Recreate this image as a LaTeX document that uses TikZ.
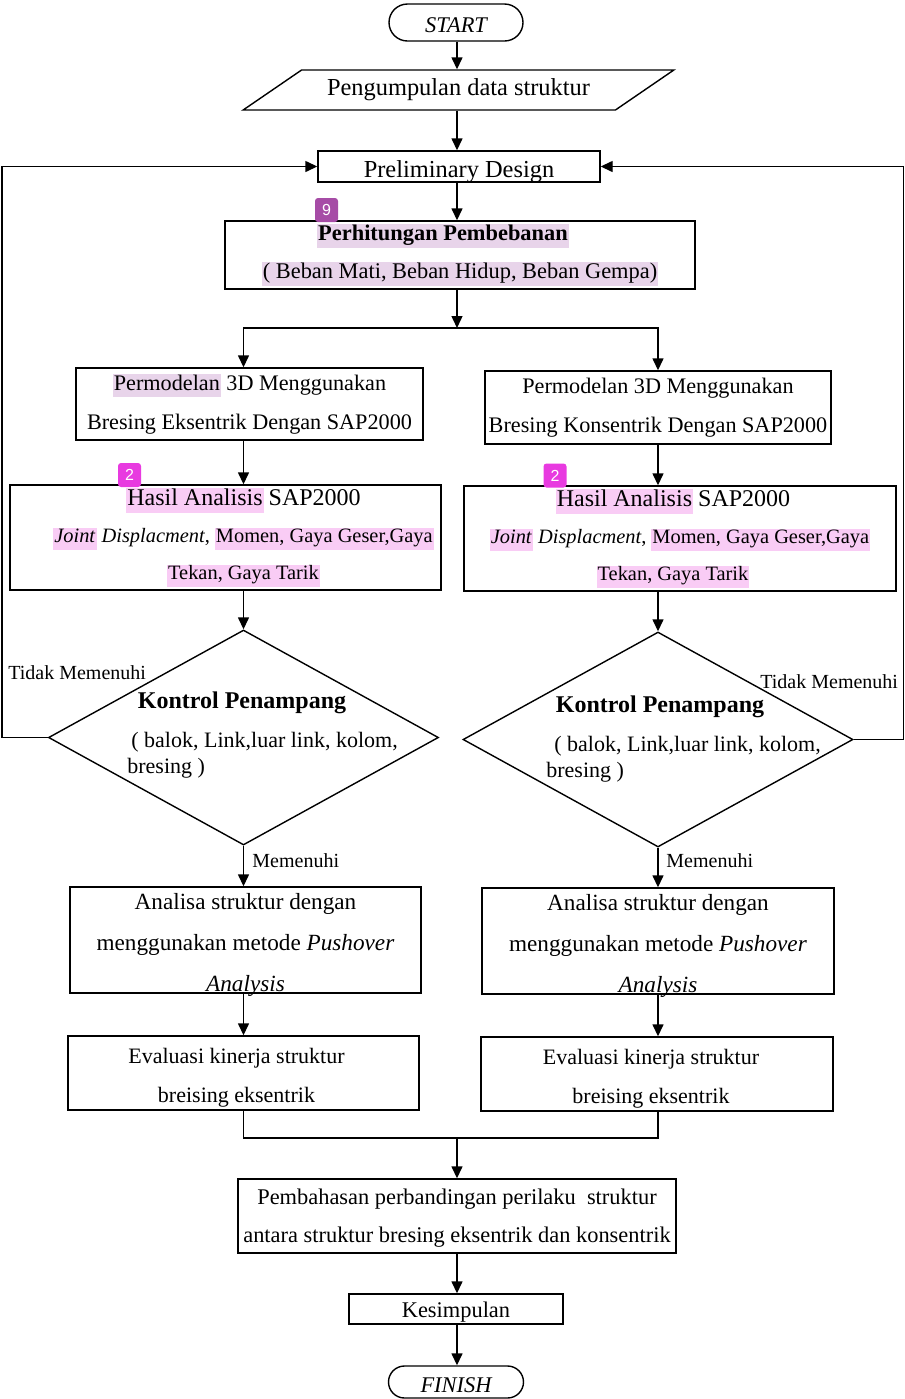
\documentclass[tikz,border=0pt]{standalone}
\usepackage{fontspec}
\setmainfont{Liberation Serif}
\setsansfont{Liberation Sans}
\usepackage{tikz}
\usetikzlibrary{shapes.geometric,shapes.misc,arrows.meta}

\definecolor{sorotungu}{RGB}{232,212,234}
\definecolor{sorotpink}{RGB}{249,204,245}
\definecolor{lencanaungu}{RGB}{166,76,166}
\definecolor{lencanapink}{RGB}{232,58,224}

\newcommand{\hlungu}[1]{{\setlength{\fboxsep}{0.5pt}\colorbox{sorotungu}{\rule[-3pt]{0pt}{10pt}#1}}}
\newcommand{\hlpink}[1]{{\setlength{\fboxsep}{0.5pt}\colorbox{sorotpink}{\rule[-3pt]{0pt}{10pt}#1}}}
\newcommand{\hurufbesar}{\fontsize{12}{18.5}\selectfont}

\tikzset{
	kotak/.style={draw, line width=0.7pt, rectangle, inner sep=0pt, align=center},
	terminal/.style={draw, line width=0.7pt, rounded rectangle, inner sep=0pt, text height=10pt, text depth=0pt, font=\fontsize{11.2}{13}\selectfont\itshape},
	masukan/.style={draw, line width=0.7pt, trapezium, trapezium left angle=24.4, trapezium right angle=155.6, trapezium stretches=true, inner sep=0pt},
	keputusan/.style={draw, line width=0.7pt, diamond, inner sep=0pt},
	panah/.style={-{Triangle[length=6pt,width=5.5pt]}, line width=0.7pt},
	garis/.style={line width=0.7pt},
	ket/.style={font=\fontsize{10}{12}\selectfont, inner sep=0pt},
	lencana/.style={rounded corners=1.5pt, text=white, font=\sffamily\fontsize{8}{8}\selectfont, minimum width=11.5pt, minimum height=12pt, inner sep=0pt}
}

\begin{document}
\begin{tikzpicture}[x=0.5pt, y=-0.5pt, font=\fontsize{11.2}{19}\selectfont]
	\useasboundingbox (0,0) rectangle (905,1399);
	
	% alur utama
	\node[terminal, minimum width=67pt, minimum height=18.5pt] (mulai) at (456, 22.5) {START};
	\node[masukan, minimum width=215.5pt, minimum height=20pt, font=\fontsize{12.2}{14}\selectfont] (data) at (458.5, 90) {Pengumpulan data struktur};
	\node[kotak, minimum width=141pt, minimum height=15.5pt, text height=10.5pt, text depth=0pt, font=\fontsize{12.2}{14}\selectfont] (prelim) at (459, 166.5) {Preliminary Design};
	\node[kotak, minimum width=235pt, minimum height=34pt] (hitung) at (460, 255) {\hlungu{\textbf{Perhitungan Pembebanan}}\hspace*{17pt}\\ \hlungu{( Beban Mati, Beban Hidup, Beban Gempa)}};
	\coordinate (cabang) at (457, 328);
	
	% kolom kiri dan kanan
	\node[kotak, minimum width=173.5pt, minimum height=36pt, font=\fontsize{11.1}{19.5}\selectfont] (modelL) at (249.5, 404) {\hlungu{Permodelan} 3D Menggunakan\\ Bresing Eksentrik Dengan SAP2000};
	\node[kotak, minimum width=173pt, minimum height=36.5pt, font=\fontsize{11.1}{19.5}\selectfont] (modelR) at (658, 407.5) {Permodelan 3D Menggunakan\\ Bresing Konsentrik Dengan SAP2000};
	
	\node[kotak, minimum width=215.5pt, minimum height=52.5pt, font=\fontsize{10.2}{18.5}\selectfont] (hasilL) at (225.5, 537.5) {\hspace*{18pt}\hlpink{\hurufbesar Hasil Analisis} {\hurufbesar SAP2000}\\ \hspace*{18pt}\hlpink{\textit{Joint}} \textit{Displacment}, \hlpink{Momen, Gaya Geser,Gaya}\\ \hspace*{18pt}\hlpink{Tekan, Gaya Tarik}};
	\node[kotak, minimum width=216pt, minimum height=52.5pt, font=\fontsize{10.2}{18.5}\selectfont] (hasilR) at (680, 538.5) {\hlpink{\hurufbesar Hasil Analisis} {\hurufbesar SAP2000}\hspace*{7pt}\\ \hlpink{\textit{Joint}} \textit{Displacment}, \hlpink{Momen, Gaya Geser,Gaya}\hspace*{7pt}\\ \hlpink{Tekan, Gaya Tarik}\hspace*{7pt}};
	
	\node[keputusan, minimum width=195pt, minimum height=107.5pt] (kontrolL) at (243.5, 737.5) {};
	\node[font=\fontsize{12}{14}\selectfont\bfseries, inner sep=0pt] (judulL) at (242, 703) {Kontrol Penampang};
	\node[anchor=west, align=left, font=\fontsize{11}{13}\selectfont, inner sep=0pt] (isiL) at (127, 755) {\hspace*{2pt}( balok, Link,luar link, kolom,\\bresing )};
	\node[keputusan, minimum width=195pt, minimum height=107.5pt] (kontrolR) at (658, 739.5) {};
	\node[font=\fontsize{12}{14}\selectfont\bfseries, inner sep=0pt] (judulR) at (660, 707) {Kontrol Penampang};
	\node[anchor=west, align=left, font=\fontsize{11}{13}\selectfont, inner sep=0pt] (isiR) at (546, 759) {\hspace*{4pt}( balok, Link,luar link, kolom,\\bresing )};
	
	\node[ket, anchor=west] (tidakL) at (8, 673) {Tidak Memenuhi};
	\node[ket, anchor=west] (tidakR) at (760, 682) {Tidak Memenuhi};
	\node[ket, anchor=west] (penuhL) at (252, 861) {Memenuhi};
	\node[ket, anchor=west] (penuhR) at (666, 861) {Memenuhi};
	
	\node[kotak, minimum width=175.5pt, minimum height=53pt, font=\fontsize{11.6}{20.5}\selectfont] (analisaL) at (245.5, 940) {\rule{0pt}{10pt}Analisa struktur dengan\\ menggunakan metode \textit{Pushover}\\ \smash{\textit{Analysis}}};
	\node[kotak, minimum width=176pt, minimum height=53pt, font=\fontsize{11.6}{20.5}\selectfont] (analisaR) at (658, 941) {\rule{0pt}{10pt}Analisa struktur dengan\\ menggunakan metode \textit{Pushover}\\ \smash{\textit{Analysis}}};
	
	\node[kotak, minimum width=175.5pt, minimum height=37pt, font=\fontsize{11}{19.5}\selectfont] (evalL) at (243.5, 1073) {\rule{0pt}{12.5pt}Evaluasi kinerja struktur\hspace*{7pt}\\ breising eksentrik\hspace*{7pt}};
	\node[kotak, minimum width=176pt, minimum height=37pt, font=\fontsize{11}{19.5}\selectfont] (evalR) at (657, 1074) {\rule{0pt}{12.5pt}Evaluasi kinerja struktur\hspace*{6pt}\\ breising eksentrik\hspace*{6pt}};
	\coordinate (gabung) at (457, 1138);
	
	% bagian akhir
	\node[kotak, minimum width=219pt, minimum height=37pt] (bahas) at (457, 1216) {\rule{0pt}{9.5pt}Pembahasan perbandingan perilaku \ struktur\\ antara struktur bresing eksentrik dan konsentrik};
	\node[kotak, minimum width=107pt, minimum height=15pt, text height=9pt, text depth=1pt] (simpul) at (456, 1309) {Kesimpulan};
	\node[terminal, minimum width=67.5pt, minimum height=16pt] (selesai) at (456, 1382) {FINISH};
	
	% penanda
	\node[lencana, fill=lencanaungu] (tanda9) at (326.5, 210) {9};
	\node[lencana, fill=lencanapink] (tanda2L) at (129.5, 475) {2};
	\node[lencana, fill=lencanapink] (tanda2R) at (555, 475.5) {2};
	
	% panah
	\draw[panah] (mulai.south -| gabung) -- (data.north -| gabung);
	\draw[panah] (data.south -| gabung) -- (prelim.north -| gabung);
	\draw[panah] (prelim.south -| gabung) -- (hitung.north -| gabung);
	\draw[panah] (hitung.south -| gabung) -- (cabang);
	\draw[panah] (cabang) -| (modelL.north -| kontrolL);
	\draw[panah] (cabang) -| (modelR.north -| kontrolR);
	
	\draw[panah] (modelL.south -| kontrolL) -- (hasilL.north -| kontrolL);
	\draw[panah] (modelR.south -| kontrolR) -- (hasilR.north -| kontrolR);
	\draw[panah] (hasilL.south -| kontrolL) -- (kontrolL.north);
	\draw[panah] (hasilR.south -| kontrolR) -- (kontrolR.north);
	\draw[panah] (kontrolL.south) -- (analisaL.north -| kontrolL);
	\draw[panah] (kontrolR.south) -- (analisaR.north -| kontrolR);
	\draw[panah] (analisaL.south -| kontrolL) -- (evalL.north -| kontrolL);
	\draw[panah] (analisaR.south -| kontrolR) -- (evalR.north -| kontrolR);
	
	\draw[panah] (kontrolL.west) -- ++(-46,0) |- (prelim.west);
	\draw[panah] (kontrolR.east) -- ++(50,0) |- (prelim.east);
	
	\draw[garis] (evalL.south -| kontrolL) |- (gabung) -| (evalR.south -| kontrolR);
	\draw[panah] (gabung) -- (bahas.north -| gabung);
	\draw[panah] (bahas.south -| gabung) -- (simpul.north -| gabung);
	\draw[panah] (simpul.south -| gabung) -- (selesai.north -| gabung);

\end{tikzpicture}
\end{document}
